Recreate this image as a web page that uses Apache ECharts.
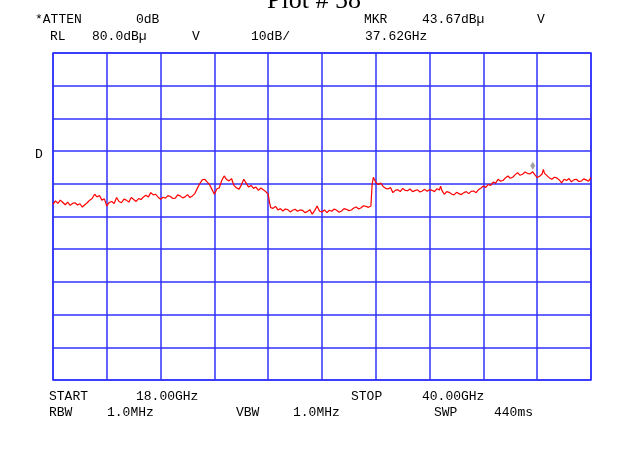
<!DOCTYPE html>
<html>
<head>
<meta charset="utf-8">
<script src="https://cdn.jsdelivr.net/npm/echarts@6/dist/echarts.min.js"></script>
<style>html,body{margin:0;padding:0;background:#fff}#c{width:620px;height:460px}</style>
</head>
<body>
<div id="c"></div>
<script>
// Frequencies (GHz) and levels (dBµV)
var freqs = [18.0,18.1,18.2,18.3,18.4,18.5,18.6,18.7,18.8,18.9,19.0,19.1,19.2,19.3,19.4,19.5,19.6,19.7,19.8,19.9,
  20.0,20.1,20.2,20.3,20.4,20.5,20.6,20.7,20.8,20.9,21.0,21.1,21.2,21.3,21.4,21.5,21.6,21.7,21.8,21.9,
  22.0,22.1,22.2,22.3,22.4,22.5,22.6,22.7,22.8,22.9,23.0,23.1,23.2,23.3,23.4,23.5,23.6,23.7,23.8,23.9,
  24.0,24.1,24.2,24.3,24.4,24.5,24.6,24.7,24.8,24.9,25.0,25.1,25.2,25.3,25.4,25.5,25.6,25.7,25.8,25.9,
  26.0,26.1,26.2,26.3,26.4,26.5,26.6,26.7,26.8,26.85,26.9,27.0,27.1,27.2,27.3,27.4,27.5,27.6,27.7,27.8,27.9,
  28.0,28.1,28.2,28.3,28.4,28.5,28.6,28.7,28.8,28.9,29.0,29.1,29.2,29.3,29.4,29.5,29.6,29.7,29.8,29.9,
  30.0,30.1,30.2,30.3,30.4,30.5,30.6,30.7,30.8,30.9,31.0,31.05,31.1,31.2,31.3,31.4,31.5,31.6,31.7,31.8,31.9,
  32.0,32.1,32.2,32.3,32.4,32.5,32.6,32.7,32.8,32.9,33.0,33.1,33.2,33.3,33.4,33.5,33.6,33.7,33.8,33.85,33.9,
  34.0,34.1,34.2,34.3,34.4,34.5,34.6,34.7,34.8,34.9,35.0,35.1,35.2,35.3,35.4,35.5,35.6,35.7,35.8,35.9,
  36.0,36.1,36.2,36.3,36.4,36.5,36.6,36.7,36.8,36.9,37.0,37.1,37.2,37.3,37.4,37.5,37.62,37.7,37.8,37.9,
  38.0,38.05,38.1,38.2,38.3,38.4,38.5,38.6,38.7,38.8,38.9,39.0,39.1,39.2,39.3,39.4,39.5,39.6,39.7,39.8,39.9,40.0];
var levels = [33.7,34.8,34.0,35.0,34.3,33.6,34.4,33.4,34.0,34.2,33.5,33.9,32.9,33.6,34.2,35.0,35.5,36.8,36.0,36.4,
  35.0,35.4,33.2,34.3,34.6,34.0,35.8,34.6,34.2,35.3,35.0,34.4,35.8,35.2,34.6,35.5,35.2,36.0,36.5,36.0,
  37.3,36.6,36.8,35.9,35.3,35.9,35.6,36.4,36.1,35.5,35.6,36.6,36.3,35.7,36.0,36.7,35.8,36.3,37.0,38.6,
  40.0,41.2,41.4,40.6,39.8,38.3,36.8,38.4,38.8,41.0,42.4,41.3,40.9,41.6,39.5,38.8,38.3,39.6,41.4,40.2,
  39.0,39.5,38.6,39.0,38.0,38.7,38.2,37.6,36.8,34.5,32.7,32.5,33.1,32.0,32.4,31.7,32.3,32.1,31.4,31.9,32.2,
  31.6,32.0,31.9,31.2,31.5,32.1,30.7,31.8,33.2,31.6,31.4,32.0,31.2,31.9,31.6,32.3,31.9,31.3,31.7,32.4,
  32.2,31.8,32.0,32.6,32.9,32.3,32.7,33.3,33.1,32.8,33.2,39.8,42.0,40.4,39.8,40.2,39.2,38.6,38.4,38.9,37.3,
  38.0,38.2,37.6,38.6,38.0,37.9,38.4,37.6,37.9,38.2,37.5,37.8,38.3,37.7,38.2,38.0,37.6,38.5,38.1,39.3,38.0,
  36.8,37.6,37.4,36.9,36.6,37.4,37.0,36.7,37.3,37.6,37.0,37.7,37.8,37.3,38.2,38.7,39.3,38.9,39.8,39.5,
  40.5,40.2,41.4,40.8,41.0,41.8,42.4,41.7,42.0,42.8,43.4,42.6,42.9,43.6,43.2,43.0,43.67,42.8,41.9,42.3,
  43.0,44.4,43.2,42.5,41.8,41.4,42.0,41.8,41.2,40.3,41.4,41.0,41.6,40.6,41.2,41.4,40.7,40.8,41.5,41.2,40.8,41.9];
var markerFreq = 37.62, markerLevel = 43.67;
var headerTexts = [
  ['*ATTEN', 35, 20], ['0dB', 136, 20], ['MKR', 364, 20], ['43.67dBµ', 422, 20], ['V', 537, 20],
  ['RL', 50, 37], ['80.0dBµ', 92, 37], ['V', 192, 37], ['10dB/', 251, 37], ['37.62GHz', 365, 37],
  ['D', 35, 155],
  ['START', 49, 397], ['18.00GHz', 136, 397], ['STOP', 351, 397], ['40.00GHz', 422, 397],
  ['RBW', 49, 413], ['1.0MHz', 107, 413], ['VBW', 236, 413], ['1.0MHz', 293, 413], ['SWP', 434, 413], ['440ms', 494, 413]
];

var data = freqs.map(function (f, i) { return [f, levels[i]]; });
var gridColor = '#3030ff';
var graphics = headerTexts.map(function (t) {
  return { type: 'text', x: t[1], y: t[2], style: { text: t[0], font: '13px "Liberation Mono", monospace', fill: '#000', verticalAlign: 'middle' } };
});
graphics.push({ type: 'text', x: 314, y: 14, style: { text: 'Plot # 58', font: '26px "Liberation Serif", serif', fill: '#000', align: 'center', verticalAlign: 'bottom' } });

var chart = echarts.init(document.getElementById('c'), null, { renderer: 'canvas' });
chart.setOption({
  animation: false,
  backgroundColor: '#fff',
  grid: { left: 53, top: 53, right: 29, bottom: 80, show: true, borderColor: gridColor, borderWidth: 1.5 },
  xAxis: [
    { type: 'value', min: 0, max: 10, interval: 1, axisLine: { show: false }, axisTick: { show: false }, axisLabel: { show: false },
      splitLine: { show: true, lineStyle: { color: gridColor, width: 1.5 } } },
    { type: 'value', min: 18, max: 40, show: false, splitLine: { show: false } }
  ],
  yAxis: { type: 'value', min: -20, max: 80, interval: 10, axisLine: { show: false }, axisTick: { show: false }, axisLabel: { show: false },
    splitLine: { show: true, lineStyle: { color: gridColor, width: 1.5 } } },
  series: [
    { type: 'line', xAxisIndex: 1, data: data, showSymbol: false, lineStyle: { color: '#ff0000', width: 1.2 }, z: 3 },
    { type: 'scatter', xAxisIndex: 1, data: [[markerFreq, markerLevel]], symbol: 'diamond', symbolSize: [5, 8], symbolOffset: [0, -6],
      itemStyle: { color: '#8a8a8a' }, z: 4 }
  ],
  graphic: graphics
});
</script>
</body>
</html>
